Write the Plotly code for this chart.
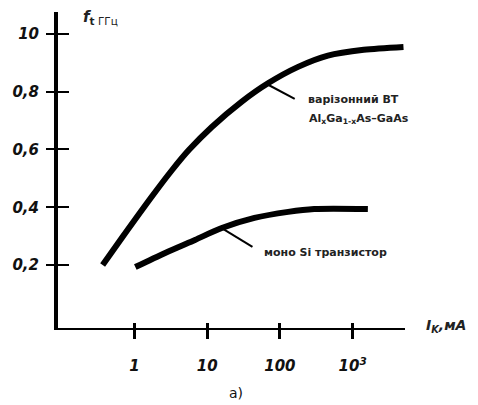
import plotly.graph_objects as go

# Data
graded_I = [0.366, 0.686, 1.76, 3.3, 5.6, 11.6, 29.7, 69.5, 178, 457, 1420, 5000]
graded_f = [0.200, 0.297, 0.439, 0.529, 0.598, 0.678, 0.765, 0.830, 0.886, 0.925, 0.945, 0.955]
mono_I = [1.03, 2.65, 6.8, 15.9, 44.7, 130, 296, 1620]
mono_f = [0.193, 0.242, 0.287, 0.328, 0.363, 0.384, 0.394, 0.394]

x_tickvals = [1, 10, 100, 1000]
x_ticktext = ["<b><i>1</i></b>", "<b><i>10</i></b>", "<b><i>100</i></b>", "<b><i>10<sup>3</sup></i></b>"]
y_tickvals = [0.2, 0.4, 0.6, 0.8, 1.0]
y_ticktext = ["<b><i>0,2</i></b>", "<b><i>0,4</i></b>", "<b><i>0,6</i></b>", "<b><i>0,8</i></b>", "<b><i>10</i></b>"]

# pointer leader lines (from curve to label)
ptr1_I = [68, 160]
ptr1_f = [0.825, 0.775]
ptr2_I = [16.5, 42]
ptr2_f = [0.325, 0.263]

label_graded_1 = "варізонний ВТ"
label_graded_2 = "Al<sub>x</sub>Ga<sub>1-x</sub>As–GaAs"
label_mono = "моно Si транзистор"

XR = [-1.05, 3.72]
YR = [-0.018, 1.076]
FONT = "DejaVu Sans"

fig = go.Figure()
fig.add_trace(go.Scatter(x=graded_I, y=graded_f, mode="lines",
                         line=dict(color="black", width=6, shape="spline", smoothing=0.8),
                         showlegend=False, hoverinfo="skip"))
fig.add_trace(go.Scatter(x=mono_I, y=mono_f, mode="lines",
                         line=dict(color="black", width=6, shape="spline", smoothing=0.8),
                         showlegend=False, hoverinfo="skip"))
fig.add_trace(go.Scatter(x=ptr1_I, y=ptr1_f, mode="lines",
                         line=dict(color="black", width=2),
                         showlegend=False, hoverinfo="skip"))
fig.add_trace(go.Scatter(x=ptr2_I, y=ptr2_f, mode="lines",
                         line=dict(color="black", width=2),
                         showlegend=False, hoverinfo="skip"))
# invisible trace to activate overlay axes
fig.add_trace(go.Scatter(x=[10], y=[0.5], xaxis="x2", yaxis="y2", mode="markers",
                         marker=dict(opacity=0), showlegend=False, hoverinfo="skip"))

fig.update_layout(
    width=478, height=405,
    margin=dict(l=55, r=73, t=12, b=77),
    paper_bgcolor="white", plot_bgcolor="white",
    font=dict(family=FONT, color="#111"),
    xaxis=dict(type="log", range=XR, showgrid=False, zeroline=False,
               showline=True, linecolor="black", linewidth=2,
               ticks="outside", ticklen=9, tickwidth=3, tickcolor="black",
               tickvals=x_tickvals, ticktext=x_ticktext,
               tickfont=dict(size=15, family=FONT, color="#111"),
               ticklabelstandoff=14),
    yaxis=dict(range=YR, showgrid=False, zeroline=False,
               showline=True, linecolor="black", linewidth=4,
               ticks="outside", ticklen=8, tickwidth=2, tickcolor="black",
               tickvals=y_tickvals, ticktext=y_ticktext,
               tickfont=dict(size=15, family=FONT, color="#111"),
               ticklabelstandoff=4),
    xaxis2=dict(type="log", range=XR, overlaying="x", anchor="y2", side="bottom",
                showgrid=False, zeroline=False, showline=False,
                ticks="inside", ticklen=5, tickwidth=3, tickcolor="black",
                tickvals=x_tickvals, showticklabels=False),
    yaxis2=dict(range=YR, overlaying="y", anchor="x2", side="left",
                showgrid=False, zeroline=False, showline=False,
                ticks="inside", ticklen=11, tickwidth=2, tickcolor="black",
                tickvals=y_tickvals, showticklabels=False),
)

ann = [
    dict(text=label_graded_1, x=305, y=100, xanchor="left", yanchor="middle",
         font=dict(size=11, family=FONT, color="#222", weight="bold")),
    dict(text=label_graded_2, x=306, y=119, xanchor="left", yanchor="middle",
         font=dict(size=11, family=FONT, color="#222", weight="bold")),
    dict(text=label_mono, x=261, y=252, xanchor="left", yanchor="middle",
         font=dict(size=11, family=FONT, color="#222", weight="bold")),
    dict(text="<b><i>f</i></b><sub><b>t</b> ГГц</sub>", x=78, y=18, xanchor="left", yanchor="middle",
         font=dict(size=15, family=FONT, color="#222")),
    dict(text="<b><i>I<sub>K</sub>,мА</i></b>", x=424, y=326, xanchor="left", yanchor="middle",
         font=dict(size=14, family=FONT, color="#222")),
    dict(text="a)", x=235, y=393, xanchor="center", yanchor="middle",
         font=dict(size=14, family=FONT, color="#111")),
]
for a in ann:
    a.update(xref="paper", yref="paper", showarrow=False)
    # convert pixel coords to paper coords
    a["x"] = (a["x"] - 55) / (478 - 55 - 73)
    a["y"] = 1 - (a["y"] - 12) / (405 - 12 - 77)
fig.update_layout(annotations=ann)

fig.write_html("out.html")
